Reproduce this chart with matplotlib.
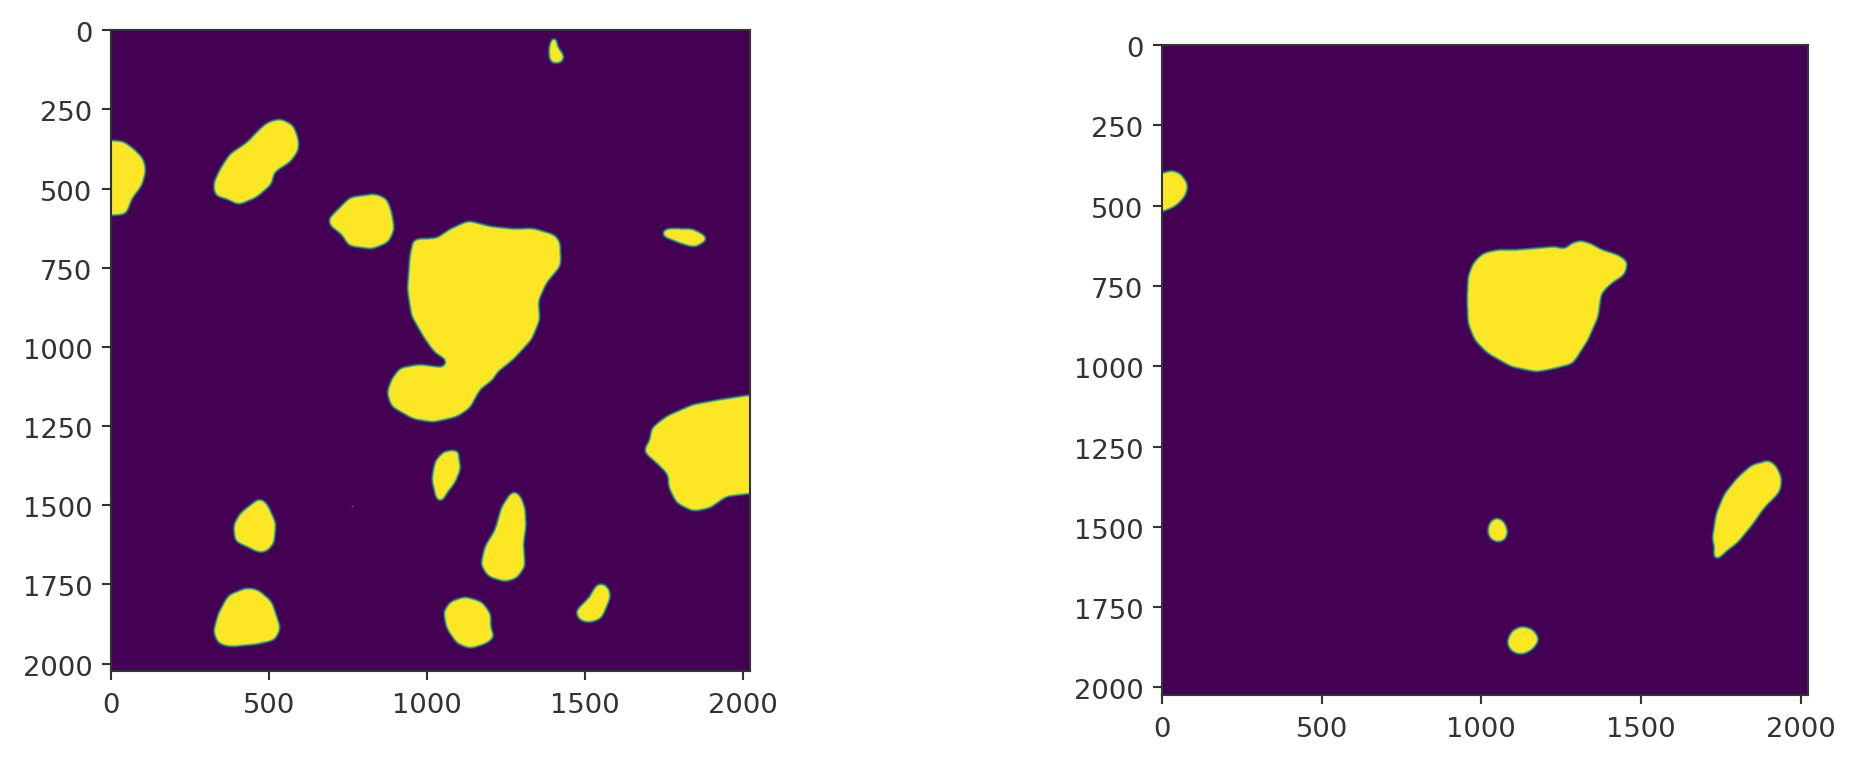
import matplotlib
matplotlib.use('Agg')
import matplotlib.pyplot as plt
import numpy as np
from matplotlib.path import Path
from matplotlib.transforms import ScaledTranslation

IMAGE_SIZE = 2024
TICKS = [0, 500, 1000, 1500, 2000]
Y_TICKS = [0, 250, 500, 750, 1000, 1250, 1500, 1750, 2000]

# blob outlines, (x, y) in image pixels
left_edge = [(-5, 350), (39, 354), (71, 377), (102, 409), (110, 446), (97, 493), (65, 535), (48, 583), (-5, 588)]
left_peanut = [(329, 525), (323, 488), (345, 440), (376, 393), (429, 358), (460, 325), (492, 295), (534, 282),
               (576, 303), (592, 346), (592, 383), (566, 419), (515, 451), (508, 488), (460, 530), (402, 554),
               (366, 535), (345, 530)]
left_mid = [(687, 599), (719, 567), (756, 530), (835, 519), (872, 535), (887, 577), (896, 630), (877, 672),
            (825, 693), (751, 683), (729, 646), (692, 620)]
left_big = [(956, 662), (1030, 659), (1072, 630), (1130, 604), (1198, 622), (1272, 630), (1335, 628), (1404, 649),
            (1420, 672), (1422, 746), (1377, 799), (1351, 857), (1356, 915), (1330, 978), (1272, 1041), (1219, 1083),
            (1209, 1104), (1166, 1136), (1135, 1194), (1093, 1222), (1019, 1239), (956, 1229), (887, 1190),
            (872, 1146), (887, 1104), (913, 1068), (977, 1057), (1050, 1067), (1066, 1046), (1024, 1020),
            (993, 978), (950, 904), (937, 820), (945, 714)]
left_top = [(1396, 18), (1408, 18), (1411, 56), (1436, 87), (1423, 108), (1387, 106), (1384, 61)]
left_sliver = [(1733, 646), (1757, 628), (1841, 630), (1893, 660), (1846, 688), (1809, 678), (1767, 662)]
left_right = [(2030, 1152), (1925, 1168), (1841, 1183), (1757, 1220), (1709, 1257), (1704, 1294), (1683, 1331),
              (1725, 1368), (1762, 1405), (1762, 1442), (1788, 1494), (1841, 1520), (1893, 1510), (1946, 1473),
              (2030, 1463)]
left_h = [(1051, 1331), (1103, 1326), (1098, 1347), (1106, 1384), (1087, 1431), (1061, 1463), (1045, 1494),
          (1029, 1484), (1014, 1420), (1024, 1363)]
left_long = [(1270, 1454), (1293, 1468), (1309, 1510), (1312, 1568), (1304, 1621), (1309, 1694), (1283, 1731),
             (1246, 1742), (1193, 1726), (1169, 1689), (1182, 1631), (1214, 1579), (1235, 1505)]
left_j = [(1546, 1745), (1572, 1758), (1580, 1789), (1551, 1858), (1514, 1871), (1483, 1865), (1467, 1837),
          (1514, 1789), (1530, 1758)]
left_k = [(1119, 1789), (1172, 1805), (1200, 1842), (1200, 1889), (1214, 1915), (1188, 1936), (1135, 1953),
          (1093, 1936), (1061, 1889), (1051, 1837), (1072, 1805)]
left_l = [(469, 1478), (492, 1494), (521, 1557), (515, 1621), (492, 1647), (466, 1650), (429, 1631), (392, 1615),
          (387, 1563), (408, 1526)]
left_m = [(429, 1761), (466, 1768), (508, 1805), (524, 1852), (536, 1889), (518, 1926), (460, 1939), (376, 1947),
          (339, 1937), (323, 1900), (339, 1842), (371, 1784)]
left_specks = [(764, 1505)]

right_edge = [(-5, 405), (25, 392), (56, 400), (82, 437), (72, 473), (41, 504), (4, 520), (-5, 522)]
right_big = [(957, 722), (973, 681), (1004, 650), (1051, 639), (1114, 639), (1176, 634), (1233, 629), (1259, 639),
             (1280, 619), (1311, 610), (1343, 621), (1374, 639), (1426, 655), (1457, 676), (1447, 717), (1405, 743),
             (1374, 774), (1364, 847), (1332, 920), (1285, 993), (1228, 1008), (1171, 1019), (1093, 1003),
             (1020, 962), (978, 920), (957, 868), (954, 795)]
right_dot = [(1046, 1469), (1072, 1486), (1082, 1518), (1072, 1544), (1046, 1549), (1025, 1538), (1017, 1512),
             (1025, 1486)]
right_oval = [(1124, 1809), (1160, 1819), (1181, 1850), (1160, 1882), (1124, 1899), (1093, 1889), (1077, 1861),
              (1093, 1824)]
right_long = [(1890, 1289), (1921, 1310), (1939, 1352), (1932, 1393), (1884, 1440), (1848, 1492), (1801, 1549),
              (1754, 1585), (1744, 1601), (1723, 1601), (1729, 1559), (1720, 1544), (1733, 1460), (1759, 1398),
              (1801, 1346), (1843, 1310), (1869, 1300), (1879, 1305)]

left_blobs = [left_edge, left_peanut, left_mid, left_big, left_top, left_sliver, left_right,
              left_h, left_long, left_j, left_k, left_l, left_m]
right_blobs = [right_edge, right_big, right_dot, right_oval, right_long]


def box_blur(mask, size):
    # running mean along both axes
    kernel = np.ones(size) / size
    mask = np.apply_along_axis(lambda row: np.convolve(row, kernel, mode='same'), 0, mask)
    mask = np.apply_along_axis(lambda row: np.convolve(row, kernel, mode='same'), 1, mask)
    return mask


def make_mask(blobs, specks=()):
    yy, xx = np.mgrid[0:IMAGE_SIZE, 0:IMAGE_SIZE]
    points = np.column_stack([xx.ravel(), yy.ravel()])
    mask = np.zeros(IMAGE_SIZE * IMAGE_SIZE, dtype=bool)
    for blob in blobs:
        mask |= Path(blob + [blob[0]]).contains_points(points)
    mask = mask.reshape(IMAGE_SIZE, IMAGE_SIZE).astype(float)
    # pad with edge values so blobs touching the border stay flush with it
    padded = np.pad(mask, 30, mode='edge')
    smooth = box_blur(box_blur(padded, 25), 25)
    # second light blur leaves the thin teal fringe along the outlines
    soft = box_blur((smooth > 0.5).astype(float), 9)[30:-30, 30:-30]
    for x, y in specks:
        soft[y - 3:y + 4, x - 3:x + 4] = 0.2
    return soft


def show_mask(fig, pixel_box, blobs, specks=()):
    x0, x1, top, bottom = pixel_box
    w, h = 1855, 761
    ax = fig.add_axes([x0 / w, 1 - bottom / h, (x1 - x0) / w, (bottom - top) / h])
    ax.imshow(make_mask(blobs, specks), cmap='viridis', vmin=0, vmax=1, aspect='auto')
    ax.set_xticks(TICKS)
    ax.set_yticks(Y_TICKS)
    ax.tick_params(labelcolor='#333333', color='#333333', labelsize=10.4)
    ax.tick_params(axis='x', pad=5)
    # y labels sit a little below their ticks in the picture
    shift = ScaledTranslation(0, -2 / 190, fig.dpi_scale_trans)
    for label in ax.get_yticklabels():
        label.set_transform(label.get_transform() + shift)
    for spine in ax.spines.values():
        spine.set_color('#333333')
    return ax


fig = plt.figure(figsize=(1855.01 / 190, 761.01 / 190), dpi=190)
show_mask(fig, (111, 750, 30, 671), left_blobs, left_specks)
show_mask(fig, (1162, 1808, 45, 695), right_blobs)
fig.savefig('out.png', dpi=190)
